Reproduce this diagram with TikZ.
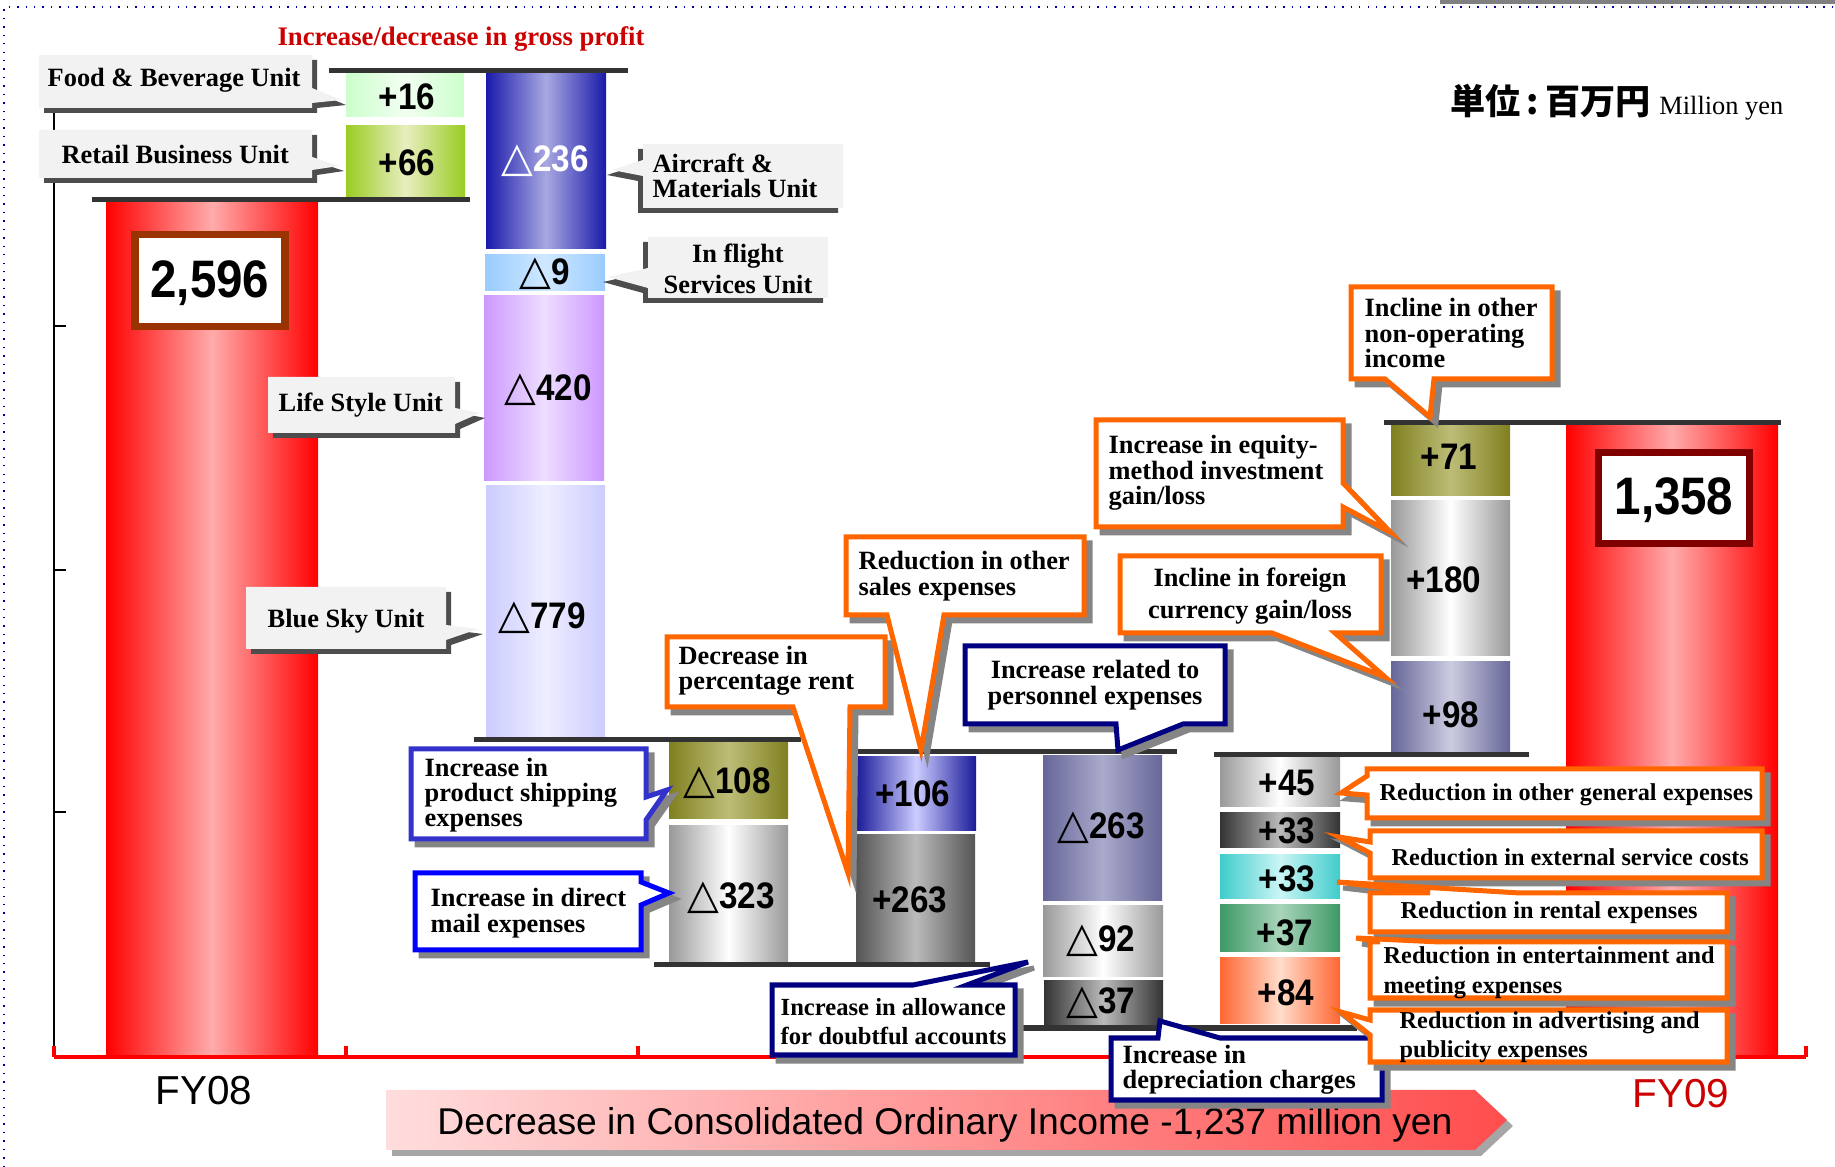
\documentclass[tikz,border=0pt]{standalone}
\usepackage{fontspec}
\setmainfont{Liberation Serif}
\newfontfamily\numfont[FakeStretch=0.9]{Liberation Sans}
\newfontfamily\textsans{Liberation Sans}
\newfontfamily\symfont{DejaVu Sans}
\newfontfamily\cjkfont{Noto Sans CJK JP}
\newcommand{\tri}{\scalebox{1.12}{\symfont\bfseries △}}
\definecolor{sepgray}{HTML}{333333}
\definecolor{unitgray}{HTML}{F2F2F2}
\definecolor{unitshadow}{HTML}{4D4D4D}
\definecolor{boxshadow}{HTML}{858585}
\definecolor{calloutorange}{HTML}{FF6600}
\definecolor{calloutnavy}{HTML}{000080}
\definecolor{calloutblue}{HTML}{3333CC}
\definecolor{titlered}{HTML}{CC0000}
\definecolor{g16edge}{HTML}{CCFFCC}\definecolor{g16mid}{HTML}{F2FFF2}
\definecolor{g66edge}{HTML}{99CC22}\definecolor{g66mid}{HTML}{E8EEC0}
\definecolor{b236edge}{HTML}{1A1AAA}\definecolor{b236mid}{HTML}{A8A8E2}
\definecolor{b9edge}{HTML}{99CCFF}\definecolor{b9mid}{HTML}{D0E8FF}
\definecolor{p420edge}{HTML}{CC99FF}\definecolor{p420mid}{HTML}{EEDDFF}
\definecolor{l779edge}{HTML}{CCCCFF}\definecolor{l779mid}{HTML}{EEEEFF}
\definecolor{oliveedge}{HTML}{808020}\definecolor{olivemid}{HTML}{BDBD78}
\definecolor{silveredge}{HTML}{999999}\definecolor{silvermid}{HTML}{FFFFFF}
\definecolor{navyedge}{HTML}{1A1A99}\definecolor{navymid}{HTML}{CCCCFF}
\definecolor{dgrayedge}{HTML}{555555}\definecolor{dgraymid}{HTML}{BBBBBB}
\definecolor{slateedge}{HTML}{666699}\definecolor{slatemid}{HTML}{AAAACC}
\definecolor{charedge}{HTML}{333333}\definecolor{charmid}{HTML}{BBBBBB}
\definecolor{cyanedge}{HTML}{40CCCC}\definecolor{cyanmid}{HTML}{CCF5F5}
\definecolor{greenedge}{HTML}{3D9966}\definecolor{greenmid}{HTML}{AAD5BB}
\definecolor{orangeedge}{HTML}{FF6633}\definecolor{orangemid}{HTML}{FFDDCC}
\begin{document}
\begin{tikzpicture}[x=0.01cm, y=-0.01cm,
    sep/.style={sepgray, line width=0.05cm},
    bar/.style={left color=#1, right color=#1},
    num/.style={font=\numfont\bfseries\fontsize{10.5}{11}\selectfont, inner sep=0pt},
    total/.style={font=\numfont\bfseries\fontsize{15}{16}\selectfont, inner sep=0pt},
    unit/.style={font=\bfseries\fontsize{7.5}{7.2}\selectfont, inner sep=0pt, align=left},
    note/.style={font=\bfseries\fontsize{7.5}{7.2}\selectfont, inner sep=0pt, align=left, anchor=west},
    rnote/.style={font=\bfseries\fontsize{6.9}{8.4}\selectfont, inner sep=0pt, align=left, anchor=west},
    unitbox/.style={fill=unitgray, preaction={fill=unitshadow, transform canvas={shift={#1}}}},
    callout/.style={draw=#1, fill=white, line width=0.05cm, preaction={draw=boxshadow, fill=boxshadow, line width=0.05cm, transform canvas={shift={(6,6)}}}}]
\useasboundingbox (0,0) rectangle (1835,1167);
% frame
\draw[blue!60!black, dotted, line width=0.4pt] (4,1167) -- (4,7) -- (1835,7);
\draw[gray, line width=0.06cm] (1440,1) -- (1835,1);
% axes
\draw[line width=0.02cm] (54,83) -- (54,1057);
\foreach \y in {83,326,570,812}
    \draw[line width=0.02cm] (54,\y) -- (66,\y);
\shade[bar=red, middle color=red!33] (106,200) rectangle (318,1057);
\shade[bar=red, middle color=red!33] (1566,423) rectangle (1778,1057);
\draw[red, line width=0.045cm] (54,1057) -- (1806,1057);
\foreach \x in {54,346,638,930,1222,1514,1806}
    \draw[red, line width=0.045cm] (\x,1057) -- (\x,1046);
% gross profit
\node[font=\bfseries\fontsize{7.6}{9}\selectfont, text=titlered, inner sep=0pt] (title) at (461,39) {Increase/decrease in gross profit};
\shade[bar=g16edge, middle color=g16mid] (346,74) rectangle (464,117);
\shade[bar=g66edge, middle color=g66mid] (346,126) rectangle (465,198);
\shade[bar=b236edge, middle color=b236mid] (486,74) rectangle (606,249);
\shade[bar=b9edge, middle color=b9mid] (485,255) rectangle (605,291);
\shade[bar=p420edge, middle color=p420mid] (484,296) rectangle (604,481);
\shade[bar=l779edge, middle color=l779mid] (486,486) rectangle (605,737);
\node[num] (v16) at (407,97) {+16};
\node[num] (v66) at (407,163) {+66};
\node[num, text=white] (v236) at (545,161) {\tri236};
\node[num] (v9) at (545,274) {\tri9};
\node[num] (v420) at (548,390) {\tri420};
\node[num] (v779) at (542,618) {\tri779};
% expenses
\shade[bar=oliveedge, middle color=olivemid] (669,743) rectangle (788,819);
\shade[bar=silveredge, middle color=silvermid] (669,826) rectangle (788,962);
\shade[bar=navyedge, middle color=navymid] (856,757) rectangle (976,831);
\shade[bar=dgrayedge, middle color=dgraymid] (856,835) rectangle (975,962);
\shade[bar=slateedge, middle color=slatemid] (1043,756) rectangle (1162,901);
\shade[bar=silveredge, middle color=silvermid] (1043,906) rectangle (1163,977);
\shade[bar=charedge, middle color=charmid] (1044,981) rectangle (1163,1025);
\shade[bar=silveredge, middle color=silvermid] (1220,757) rectangle (1340,807);
\shade[bar=charedge, middle color=charmid] (1220,813) rectangle (1340,848);
\shade[bar=cyanedge, middle color=cyanmid] (1220,855) rectangle (1340,899);
\shade[bar=greenedge, middle color=greenmid] (1220,905) rectangle (1340,952);
\shade[bar=orangeedge, middle color=orangemid] (1220,958) rectangle (1340,1024);
\shade[bar=oliveedge, middle color=olivemid] (1391,426) rectangle (1510,496);
\shade[bar=silveredge, middle color=silvermid] (1391,501) rectangle (1510,656);
\shade[bar=slateedge, middle color=slatemid!60] (1391,662) rectangle (1510,753);
\node[num] (v108) at (727,783) {\tri108};
\node[num] (v323) at (731,898) {\tri323};
\node[num] (v106) at (913,794) {+106};
\node[num] (v263p) at (910,900) {+263};
\node[num] (v263m) at (1101,828) {\tri263};
\node[num] (v92) at (1101,941) {\tri92};
\node[num] (v37m) at (1101,1003) {\tri37};
\node[num] (v45) at (1287,783) {+45};
\node[num] (v33a) at (1287,831) {+33};
\node[num] (v33b) at (1287,879) {+33};
\node[num] (v37p) at (1285,933) {+37};
\node[num] (v84) at (1286,993) {+84};
\node[num] (v71) at (1449,457) {+71};
\node[num] (v180) at (1444,580) {+180};
\node[num] (v98) at (1451,715) {+98};
% levels
\draw[sep] (92,200) -- (470,200);
\draw[sep] (329,71) -- (628,71);
\draw[sep] (474,740) -- (801,740);
\draw[sep] (654,965) -- (990,965);
\draw[sep] (854,752) -- (1177,752);
\draw[sep] (1023,1028) -- (1357,1028);
\draw[sep] (1214,755) -- (1529,755);
\draw[sep] (1384,423) -- (1781,423);
% totals
\draw[draw={rgb,255:red,153;green,51;blue,0}, line width=0.07cm, fill=white] (135,235) rectangle (285,327);
\node[total] (fy08total) at (210,283) {2,596};
\draw[draw={rgb,255:red,128;green,0;blue,0}, line width=0.07cm, fill=white] (1598,453) rectangle (1749,544);
\node[total] (fy09total) at (1674,500) {1,358};
\node[font=\textsans\fontsize{11.5}{12}\selectfont, inner sep=0pt] (fy08) at (204,1091) {FY08};
\node[font=\textsans\fontsize{11.5}{12}\selectfont, inner sep=0pt, text=titlered] (fy09) at (1681,1094) {FY09};
\node[anchor=base west, inner sep=0pt] (unitnote) at (1450,115) {{\cjkfont\bfseries\fontsize{10}{12}\selectfont 単位\,:\,百万円} {\fontsize{7.5}{9}\selectfont Million yen}};
% banner
\shade[left color={rgb,255:red,255;green,221;blue,221}, right color={rgb,255:red,255;green,77;blue,77}, preaction={fill=gray!70, transform canvas={shift={(6,6)}}}] (386,1090) -- (1475,1090) -- (1507,1120) -- (1475,1150) -- (386,1150) -- cycle;
\node[font=\textsans\fontsize{10.6}{12}\selectfont, inner sep=0pt] (banner) at (945,1125) {Decrease in Consolidated Ordinary Income -1,237 million yen};
% unit callouts
\path[unitbox={(5,5)}] (39,55) -- (312,55) -- (312,88) -- (341,100) -- (312,103) -- (312,108) -- (39,108) -- cycle;
\node[unit, anchor=west] (food) at (47,80) {Food \& Beverage Unit};
\path[unitbox={(5,5)}] (39,130) -- (312,130) -- (312,157) -- (339,166) -- (312,170) -- (312,178) -- (39,178) -- cycle;
\node[unit, anchor=west] (retail) at (61,155) {Retail Business Unit};
\path[unitbox={(-5,5)}] (643,144) -- (843,144) -- (843,208) -- (643,208) -- (643,176) -- (612,170) -- (643,160) -- cycle;
\node[unit, anchor=west] (aircraft) at (652,176) {Aircraft \&\\Materials Unit};
\path[unitbox={(-5,5)}] (648,237) -- (828,237) -- (828,298) -- (648,298) -- (648,288) -- (608,277) -- (648,268) -- cycle;
\node[unit, align=center, font=\bfseries\fontsize{7.5}{9}\selectfont] (inflight) at (738,269) {In flight\\Services Unit};
\path[unitbox={(5,5)}] (268,377) -- (455,377) -- (455,408) -- (480,413) -- (455,424) -- (455,433) -- (268,433) -- cycle;
\node[unit, anchor=west] (lifestyle) at (278,405) {Life Style Unit};
\path[unitbox={(5,5)}] (246,587) -- (446,587) -- (446,625) -- (478,629) -- (446,640) -- (446,649) -- (246,649) -- cycle;
\node[unit, anchor=west] (bluesky) at (267,621) {Blue Sky Unit};
% expense callouts
\path[callout=calloutblue] (411,749) -- (646,749) -- (646,797) -- (667,790) -- (646,820) -- (646,839) -- (411,839) -- cycle;
\node[note] (shipping) at (424,795) {Increase in\\product shipping\\expenses};
\path[callout=blue] (415,873) -- (641,873) -- (641,882) -- (669,893) -- (641,905) -- (641,950) -- (415,950) -- cycle;
\node[note] (directmail) at (430,913) {Increase in direct\\mail expenses};
\path[callout=calloutorange] (667,637) -- (885,637) -- (885,707) -- (850,707) -- (848,873) -- (793,707) -- (667,707) -- cycle;
\node[note] (rent) at (678,671) {Decrease in\\percentage rent};
\path[callout=calloutorange] (846,537) -- (1084,537) -- (1084,615) -- (944,615) -- (921,750) -- (887,615) -- (846,615) -- cycle;
\node[note] (sales) at (858,576) {Reduction in other\\sales expenses};
\path[callout=calloutnavy] (965,646) -- (1225,646) -- (1225,724) -- (1183,724) -- (1118,750) -- (1116,724) -- (965,724) -- cycle;
\node[note, anchor=center, align=center] (personnel) at (1095,685) {Increase related to\\personnel expenses};
\path[callout=calloutorange] (1120,556) -- (1381,556) -- (1381,633) -- (1335,633) -- (1385,677) -- (1272,633) -- (1120,633) -- cycle;
\node[note, anchor=center, align=center, font=\bfseries\fontsize{7.5}{9}\selectfont] (foreign) at (1250,596) {Incline in foreign\\currency gain/loss};
\path[callout=calloutorange] (1096,420) -- (1343,420) -- (1343,483) -- (1390,532) -- (1343,507) -- (1343,527) -- (1096,527) -- cycle;
\node[note] (equity) at (1108,473) {Increase in equity-\\method investment\\gain/loss};
\path[callout=calloutorange] (1351,287) -- (1552,287) -- (1552,379) -- (1434,379) -- (1430,417) -- (1385,379) -- (1351,379) -- cycle;
\node[note] (nonop) at (1364,333) {Incline in other\\non-operating\\income};
\path[callout=calloutnavy] (772,985) -- (913,985) -- (1028,962) -- (967,985) -- (1015,985) -- (1015,1055) -- (772,1055) -- cycle;
\node[note, font=\bfseries\fontsize{7}{8.2}\selectfont] (allowance) at (780,1022) {Increase in allowance\\for doubtful accounts};
\path[callout=calloutnavy] (1111,1038) -- (1158,1038) -- (1160,1021) -- (1220,1038) -- (1382,1038) -- (1382,1100) -- (1111,1100) -- cycle;
\node[note] (depreciation) at (1122,1070) {Increase in\\depreciation charges};
\path[callout=calloutorange] (1367,769) -- (1762,769) -- (1762,818) -- (1367,818) -- (1367,795) -- (1341,793) -- (1367,776) -- cycle;
\node[rnote] (general) at (1379,795) {Reduction in other general expenses};
\path[callout=calloutorange] (1370,831) -- (1762,831) -- (1762,878) -- (1370,878) -- (1370,853) -- (1339,837) -- (1370,842) -- cycle;
\node[rnote] (external) at (1391,857) {Reduction in external service costs};
\path[callout=calloutorange] (1370,893) -- (1430,893) -- (1337,882) -- (1520,893) -- (1727,893) -- (1727,932) -- (1370,932) -- cycle;
\node[rnote] (rental) at (1400,913) {Reduction in rental expenses};
\path[callout=calloutorange] (1370,942) -- (1380,942) -- (1356,938) -- (1440,942) -- (1727,942) -- (1727,998) -- (1370,998) -- cycle;
\node[rnote] (entertainment) at (1383,973) {Reduction in entertainment and\\meeting expenses};
\path[callout=calloutorange] (1370,1010) -- (1727,1010) -- (1727,1062) -- (1370,1062) -- (1370,1035) -- (1341,1012) -- (1370,1020) -- cycle;
\node[rnote] (advertising) at (1399,1037) {Reduction in advertising and\\publicity expenses};
\end{tikzpicture}
\end{document}
